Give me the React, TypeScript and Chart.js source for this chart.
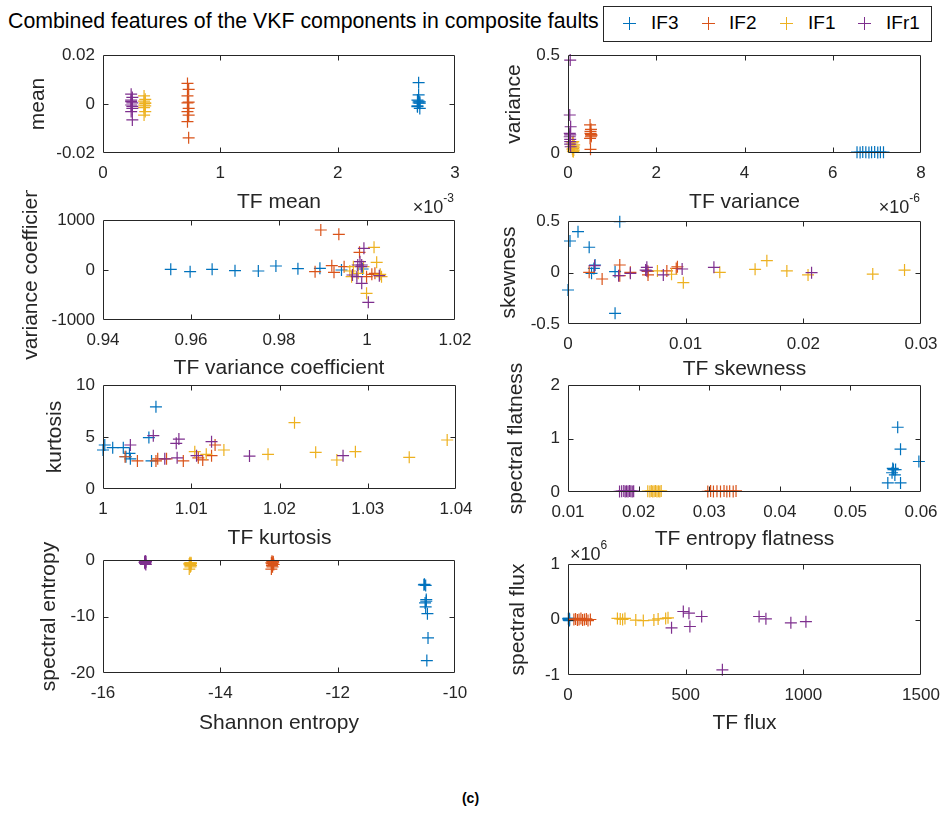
import React, { useEffect, useRef } from 'react';
import { Chart, registerables } from 'chart.js';

Chart.register(...registerables);

// ---------- colours / fonts ----------
const SERIES_NAMES = ['IF3', 'IF2', 'IF1', 'IFr1'];
const SERIES_COLORS = ['#0072BD', '#D95319', '#EDB120', '#7E2F8E'];
const AXIS_COLOR = '#262626';
const FONT = "'Liberation Sans', Arial, Helvetica, sans-serif";

// ---------- data: TF mean vs mean ----------
const tfMeanIF3 = [2.69e-3, 2.69e-3, 2.68e-3, 2.70e-3, 2.69e-3, 2.68e-3, 2.70e-3, 2.69e-3, 2.68e-3, 2.70e-3];
const meanIF3 = [0.0087, 0.0037, 0.0016, 0.0009, 0.0012, -0.0011, -0.0018, 0.0005, -0.0008, 0.0003];
const tfMeanIF2 = [0.72e-3, 0.73e-3, 0.72e-3, 0.73e-3, 0.72e-3, 0.73e-3, 0.72e-3, 0.73e-3, 0.72e-3, 0.73e-3];
const meanIF2 = [0.0084, 0.006, 0.0033, 0.0008, 0.0005, -0.0018, -0.0031, -0.0045, -0.0072, -0.0138];
const tfMeanIF1 = [0.35e-3, 0.36e-3, 0.35e-3, 0.36e-3, 0.35e-3, 0.36e-3, 0.35e-3, 0.36e-3, 0.35e-3, 0.36e-3];
const meanIF1 = [0.0033, 0.0019, 0.0012, 0.0005, -0.0004, -0.0008, -0.0015, -0.0031, -0.0045, 0.0002];
const tfMeanIFr1 = [0.24e-3, 0.25e-3, 0.24e-3, 0.25e-3, 0.24e-3, 0.25e-3, 0.24e-3, 0.25e-3, 0.24e-3, 0.25e-3];
const meanIFr1 = [0.004, 0.0027, 0.0016, 0.0005, -0.0004, -0.0018, -0.0031, -0.0065, 0.001, -0.001];

// ---------- data: TF variance vs variance ----------
const tfVarIF3 = [6.55e-6, 6.62e-6, 6.68e-6, 6.75e-6, 6.82e-6, 6.88e-6, 6.95e-6, 7.02e-6, 7.08e-6, 7.15e-6];
const varIF3 = [0.004, 0.003, 0.005, 0.004, 0.003, 0.004, 0.005, 0.003, 0.004, 0.004];
const tfVarIF2 = [0.5e-6, 0.52e-6, 0.51e-6, 0.53e-6, 0.52e-6, 0.5e-6, 0.51e-6, 0.52e-6, 0.53e-6, 0.51e-6];
const varIF2 = [0.143, 0.121, 0.1, 0.092, 0.083, 0.075, 0.11, 0.095, 0.088, 0.019];
const tfVarIF1 = [0.12e-6, 0.1e-6, 0.14e-6, 0.11e-6, 0.13e-6, 0.12e-6, 0.1e-6, 0.13e-6, 0.11e-6, 0.12e-6];
const varIF1 = [0.058, 0.052, 0.041, 0.035, 0.03, 0.024, 0.02, 0.015, 0.01, 0.007];
const tfVarIFr1 = [0.05e-6, 0.04e-6, 0.06e-6, 0.05e-6, 0.04e-6, 0.05e-6, 0.06e-6, 0.04e-6, 0.05e-6, 0.05e-6];
const varIFr1 = [0.474, 0.194, 0.134, 0.092, 0.083, 0.058, 0.032, 0.1, 0.07, 0.045];

// ---------- data: TF variance coefficient vs variance coefficient ----------
const tfVcIF3 = [0.9554, 0.9598, 0.9648, 0.97, 0.9753, 0.9793, 0.9843, 0.9893, 0.9942, 0.999];
const vcIF3 = [13, -33, 13, -13, -20, 80, 27, 33, 0, 20];
const tfVcIF2 = [0.9895, 0.9936, 0.9983, 0.992, 0.9882, 0.9925, 0.9948, 1.0011, 0.9999, 1.0018];
const vcIF2 = [800, 713, 353, 87, -33, -47, 67, -87, -133, -67];
const tfVcIF1 = [1.0016, 1.0022, 0.9999, 0.9969, 0.9965, 0.998, 1.0033, 1.003, 0.9961, 0.9992];
const vcIF1 = [453, 153, -467, 67, -133, -67, -133, -87, -20, 67];
const tfVcIFr1 = [0.9993, 0.9984, 0.9988, 0.9979, 0.9967, 0.9988, 1.0003, 1.0028, 0.9987, 0.9977];
const vcIFr1 = [433, 167, 100, 100, -100, -267, -647, -113, 67, -133];

// ---------- data: TF skewness vs skewness ----------
const tfSkIF3 = [0.0044, 0.00085, 0.00017, 0.0018, 0.0, 0.004, 0.0022, 0.002, 0.0023, 0.004];
const skIF3 = [0.493, 0.396, 0.306, 0.245, -0.17, -0.396, 0.04, -0.008, 0.073, 0.008];
const tfSkIF2 = [0.0018, 0.0029, 0.0044, 0.0044, 0.0053, 0.0068, 0.0084, 0.0093, 0.0092, 0.0068];
const skIF2 = [0.002, -0.063, 0.073, -0.031, 0.002, -0.024, 0.015, 0.056, 0.04, 0.01];
const tfSkIF1 = [0.0076, 0.0088, 0.0098, 0.0129, 0.0159, 0.0169, 0.0186, 0.0204, 0.0259, 0.0286];
const skIF1 = [0.015, -0.017, -0.099, 0.002, 0.031, 0.115, 0.015, -0.024, -0.015, 0.024];
const tfSkIFr1 = [0.00226, 0.0043, 0.0053, 0.0066, 0.0067, 0.0081, 0.0097, 0.0124, 0.0207, 0.0067];
const skIFr1 = [0.066, -0.031, -0.008, 0.024, 0.016, -0.024, 0.034, 0.05, -0.002, 0.05];

// ---------- data: TF kurtosis vs kurtosis ----------
const tfKuIF3 = [1.0002, 1.0011, 1.0023, 1.003, 1.0026, 1.006, 1.0052, 1.0055, 1.0031, 1.0];
const kuIF3 = [4.23, 3.97, 3.97, 3.43, 3.1, 7.9, 4.94, 2.7, 2.9, 3.75];
const tfKuIF2 = [1.0025, 1.0039, 1.006, 1.0072, 1.0091, 1.0108, 1.0113, 1.0123, 1.0127, 1.0062];
const kuIF2 = [3.1, 2.7, 2.7, 2.9, 2.7, 3.0, 2.8, 3.2, 4.23, 2.9];
const tfKuIF1 = [1.0104, 1.0117, 1.0137, 1.0187, 1.0217, 1.0241, 1.0265, 1.0286, 1.0347, 1.039];
const kuIF1 = [3.59, 3.33, 3.75, 3.33, 6.38, 3.53, 2.79, 3.59, 3.05, 4.71];
const tfKuIFr1 = [1.0031, 1.0057, 1.0086, 1.0083, 1.0123, 1.007, 1.0084, 1.0106, 1.0166, 1.0272];
const kuIFr1 = [4.23, 5.13, 4.8, 4.39, 4.55, 2.9, 3.0, 3.2, 3.17, 3.2];

// ---------- data: TF entropy flatness vs spectral flatness ----------
const tfFlIF3 = [0.0567, 0.0571, 0.0597, 0.0561, 0.0564, 0.0559, 0.0553, 0.0571, 0.0563, 0.056];
const flIF3 = [1.21, 0.8, 0.57, 0.42, 0.42, 0.36, 0.17, 0.17, 0.32, 0.44];
const tfFlIF2 = [0.0298, 0.0302, 0.0306, 0.0311, 0.0316, 0.0321, 0.0325, 0.0329, 0.0334, 0.0338];
const flIF2 = [0.01, 0.02, 0.01, 0.015, 0.01, 0.02, 0.01, 0.015, 0.01, 0.02];
const tfFlIF1 = [0.0213, 0.0216, 0.0218, 0.022, 0.0222, 0.0224, 0.0226, 0.0228, 0.023, 0.0232];
const flIF1 = [0.015, 0.01, 0.02, 0.01, 0.015, 0.02, 0.01, 0.015, 0.01, 0.02];
const tfFlIFr1 = [0.0173, 0.0176, 0.0179, 0.0181, 0.0183, 0.0185, 0.0187, 0.0189, 0.0191, 0.0193];
const flIFr1 = [0.01, 0.015, 0.02, 0.01, 0.015, 0.01, 0.02, 0.015, 0.01, 0.015];

// ---------- data: Shannon entropy vs spectral entropy ----------
const shIF3 = [-10.52, -10.5, -10.49, -10.51, -10.5, -10.47, -10.46, -10.48, -10.53, -10.49];
const seIF3 = [-4.3, -4.5, -7.0, -7.6, -8.3, -9.5, -13.8, -17.8, -4.4, -7.3];
const shIF2 = [-13.12, -13.1, -13.13, -13.11, -13.12, -13.09, -13.12, -13.11, -13.13, -13.1];
const seIF2 = [-0.2, -0.4, -0.5, -0.6, -0.7, -0.8, -1.0, -1.2, -1.6, -0.3];
const shIF1 = [-14.52, -14.5, -14.53, -14.51, -14.52, -14.5, -14.51, -14.53, -14.52, -14.5];
const seIF1 = [-0.5, -0.6, -0.7, -0.8, -0.9, -1.0, -1.2, -1.6, -0.7, -0.5];
const shIFr1 = [-15.28, -15.27, -15.29, -15.28, -15.27, -15.28, -15.29, -15.28, -15.27, -15.28];
const seIFr1 = [-0.2, -0.3, -0.4, -0.5, -0.3, -0.6, -0.4, -0.2, -0.8, -0.5];

// ---------- data: TF flux vs spectral flux ----------
const tfFxIF3 = [2, 3, 4, 5, 6, 3, 4, 5, 2, 7];
const fxIF3 = [0.01e6, -0.01e6, 0.02e6, 0, -0.02e6, 0.01e6, 0, -0.01e6, 0.02e6, 0];
const tfFxIF2 = [25, 32, 40, 47, 55, 62, 70, 78, 85, 95];
const fxIF2 = [0, 0.01e6, -0.01e6, 0, 0.02e6, -0.01e6, 0, 0.01e6, -0.02e6, 0];
const tfFxIF1 = [210, 222, 232, 242, 288, 320, 365, 383, 415, 425];
const fxIF1 = [0.02e6, 0.01e6, 0, 0.02e6, -0.01e6, -0.02e6, -0.01e6, 0.01e6, 0.02e6, 0.03e6];
const tfFxIFr1 = [490, 514, 568, 440, 518, 656, 812, 841, 947, 1011];
const fxIFr1 = [0.144e6, 0.114e6, 0.054e6, -0.15e6, -0.126e6, -0.906e6, 0.054e6, 0.012e6, -0.06e6, -0.04e6];

// ---------- panel definitions ----------
type Exp = { text: string; side: 'x' | 'y' };
interface PanelCfg {
  xTitle: string;
  yTitle: string;
  plot: [number, number, number, number]; // left, top, right, bottom (page px)
  yTitleX: number;
  xTitleY: number;
  x: [number, number, number, number]; // min, max, step, divisor
  y: [number, number, number, number];
  exp?: Exp;
  series: [number[], number[]][];
}

const PANELS: PanelCfg[] = [
  {
    xTitle: 'TF mean', yTitle: 'mean', plot: [103, 55, 455, 153], yTitleX: 39, xTitleY: 202,
    x: [0, 0.003, 0.001, 1e-3], y: [-0.02, 0.02, 0.02, 1], exp: { text: '-3', side: 'x' },
    series: [[tfMeanIF3, meanIF3], [tfMeanIF2, meanIF2], [tfMeanIF1, meanIF1], [tfMeanIFr1, meanIFr1]],
  },
  {
    xTitle: 'TF variance', yTitle: 'variance', plot: [568, 55, 921, 153], yTitleX: 515, xTitleY: 202,
    x: [0, 8e-6, 2e-6, 1e-6], y: [0, 0.5, 0.5, 1], exp: { text: '-6', side: 'x' },
    series: [[tfVarIF3, varIF3], [tfVarIF2, varIF2], [tfVarIF1, varIF1], [tfVarIFr1, varIFr1]],
  },
  {
    xTitle: 'TF variance coefficient', yTitle: 'variance coefficient', plot: [103, 220, 455, 320], yTitleX: 32, xTitleY: 368,
    x: [0.94, 1.02, 0.02, 1], y: [-1000, 1000, 1000, 1],
    series: [[tfVcIF3, vcIF3], [tfVcIF2, vcIF2], [tfVcIF1, vcIF1], [tfVcIFr1, vcIFr1]],
  },
  {
    xTitle: 'TF skewness', yTitle: 'skewness', plot: [568, 221, 921, 324], yTitleX: 510, xTitleY: 369,
    x: [0, 0.03, 0.01, 1], y: [-0.5, 0.5, 0.5, 1],
    series: [[tfSkIF3, skIF3], [tfSkIF2, skIF2], [tfSkIF1, skIF1], [tfSkIFr1, skIFr1]],
  },
  {
    xTitle: 'TF kurtosis', yTitle: 'kurtosis', plot: [103, 385, 456, 489], yTitleX: 56, xTitleY: 538,
    x: [1, 1.04, 0.01, 1], y: [0, 10, 5, 1],
    series: [[tfKuIF3, kuIF3], [tfKuIF2, kuIF2], [tfKuIF1, kuIF1], [tfKuIFr1, kuIFr1]],
  },
  {
    xTitle: 'TF entropy flatness', yTitle: 'spectral flatness', plot: [568, 385, 921, 492], yTitleX: 517, xTitleY: 539,
    x: [0.01, 0.06, 0.01, 1], y: [0, 2, 1, 1],
    series: [[tfFlIF3, flIF3], [tfFlIF2, flIF2], [tfFlIF1, flIF1], [tfFlIFr1, flIFr1]],
  },
  {
    xTitle: 'Shannon entropy', yTitle: 'spectral entropy', plot: [103, 560, 455, 673], yTitleX: 50, xTitleY: 723,
    x: [-16, -10, 2, 1], y: [-20, 0, 10, 1],
    series: [[shIF3, seIF3], [shIF2, seIF2], [shIF1, seIF1], [shIFr1, seIFr1]],
  },
  {
    xTitle: 'TF flux', yTitle: 'spectral flux', plot: [568, 564, 921, 675], yTitleX: 519, xTitleY: 723,
    x: [0, 1500, 500, 1], y: [-1e6, 1e6, 1e6, 1e6], exp: { text: '6', side: 'y' },
    series: [[tfFxIF3, fxIF3], [tfFxIF2, fxIF2], [tfFxIF1, fxIF1], [tfFxIFr1, fxIFr1]],
  },
];

const TITLE_SIZE = 21;
const TICK_SIZE = 17;
const TITLE_OFF = (TITLE_SIZE * 1.2) / 2;

function fmt(v: number): string {
  const r = Math.round(v * 1e6) / 1e6;
  return String(r === 0 ? 0 : r);
}

// draws the MATLAB-like box, inward ticks, and the exponent labels
const framePlugin = {
  id: 'mframe',
  afterDraw(chart: any, _args: any, opts: any) {
    const { ctx, chartArea: a, scales } = chart;
    const L = Math.round(a.left) + 0.5;
    const R = Math.round(a.right) - 0.5;
    const T = Math.round(a.top) + 0.5;
    const B = Math.round(a.bottom) - 0.5;
    ctx.save();
    ctx.strokeStyle = AXIS_COLOR;
    ctx.lineWidth = 1;
    ctx.beginPath();
    ctx.rect(L, T, R - L, B - T);
    const TL = 5;
    for (const t of scales.x.ticks) {
      const px = Math.round(scales.x.getPixelForValue(t.value)) + 0.5;
      if (Math.abs(px - L) < 2 || Math.abs(px - R) < 2) continue;
      ctx.moveTo(px, B); ctx.lineTo(px, B - TL);
      ctx.moveTo(px, T); ctx.lineTo(px, T + TL);
    }
    for (const t of scales.y.ticks) {
      const py = Math.round(scales.y.getPixelForValue(t.value)) + 0.5;
      if (Math.abs(py - T) < 2 || Math.abs(py - B) < 2) continue;
      ctx.moveTo(L, py); ctx.lineTo(L + TL, py);
      ctx.moveTo(R, py); ctx.lineTo(R - TL, py);
    }
    ctx.stroke();

    const exp: Exp | undefined = opts && opts.exp;
    if (exp) {
      ctx.fillStyle = AXIS_COLOR;
      ctx.textBaseline = 'alphabetic';
      ctx.textAlign = 'left';
      const mainFont = `18px ${FONT}`;
      const supFont = `12px ${FONT}`;
      ctx.font = mainFont;
      const w1 = ctx.measureText('\u00d710').width;
      ctx.font = supFont;
      const w2 = ctx.measureText(exp.text).width;
      let x0: number, base: number;
      if (exp.side === 'x') {
        x0 = a.right - w1 - w2 - 1;
        base = a.bottom + 60;
      } else {
        x0 = a.left + 2;
        base = a.top - 4;
      }
      ctx.font = mainFont;
      ctx.fillText('\u00d710', x0, base);
      ctx.font = supFont;
      ctx.fillText(exp.text, x0 + w1, base - 11);
    }
    ctx.restore();
  },
};

function Panel({ cfg }: { cfg: PanelCfg }) {
  const ref = useRef<HTMLCanvasElement>(null);
  const [pl, pt, pr, pb] = cfg.plot;
  const cl = Math.round(cfg.yTitleX - TITLE_OFF);
  const ct = pt - 30;
  const cr = pr + 30;
  const cb = Math.round(cfg.xTitleY + TITLE_OFF);
  const w = cr - cl;
  const h = cb - ct;

  useEffect(() => {
    if (!ref.current) return;
    const [xMin, xMax, xStep, xDiv] = cfg.x;
    const [yMin, yMax, yStep, yDiv] = cfg.y;
    const datasets = cfg.series.map(([xs, ys], i) => ({
      label: SERIES_NAMES[i],
      data: xs.map((x, j) => ({ x, y: ys[j] })),
      borderColor: SERIES_COLORS[i],
      backgroundColor: SERIES_COLORS[i],
      pointStyle: 'cross',
      pointRadius: 6,
      pointBorderWidth: 1.2,
      showLine: false,
      clip: false,
      order: 3 - i,
    }));
    const tickFont = { family: FONT, size: TICK_SIZE };
    const titleFont = { family: FONT, size: TITLE_SIZE };
    const chart = new Chart(ref.current, {
      type: 'scatter',
      data: { datasets } as any,
      options: {
        animation: false,
        responsive: false,
        maintainAspectRatio: false,
        events: [],
        layout: { padding: { left: 0, top: pt - ct, right: cr - pr, bottom: 0 } },
        plugins: {
          legend: { display: false },
          tooltip: { enabled: false },
          mframe: { exp: cfg.exp },
        } as any,
        scales: {
          x: {
            type: 'linear',
            position: 'bottom',
            min: xMin,
            max: xMax,
            grid: { display: false, drawTicks: false },
            border: { display: false },
            ticks: {
              stepSize: xStep,
              padding: 10,
              color: AXIS_COLOR,
              font: tickFont,
              autoSkip: false,
              maxRotation: 0,
              callback: (v: any) => fmt(Number(v) / xDiv),
            },
            title: { display: true, text: cfg.xTitle, color: AXIS_COLOR, font: titleFont, padding: 0 },
            afterFit: (s: any) => { s.height = cb - pb; },
          },
          y: {
            type: 'linear',
            position: 'left',
            min: yMin,
            max: yMax,
            grid: { display: false, drawTicks: false },
            border: { display: false },
            ticks: {
              stepSize: yStep,
              padding: 8,
              color: AXIS_COLOR,
              font: tickFont,
              autoSkip: false,
              callback: (v: any) => fmt(Number(v) / yDiv),
            },
            title: { display: true, text: cfg.yTitle, color: AXIS_COLOR, font: titleFont, padding: 0 },
            afterFit: (s: any) => { s.width = pl - cl; },
          },
        },
      } as any,
      plugins: [framePlugin],
    });
    return () => chart.destroy();
  }, []);

  return (
    <canvas
      ref={ref}
      width={w}
      height={h}
      style={{ position: 'absolute', left: cl, top: ct, width: w, height: h }}
    />
  );
}

function LegendMarker({ color, left }: { color: string; left: number }) {
  return (
    <div style={{ position: 'absolute', left: left - 6, top: 17, width: 13, height: 13 }}>
      <div style={{ position: 'absolute', left: 0, top: 6, width: 13, height: 1, background: color }} />
      <div style={{ position: 'absolute', left: 6, top: 0, width: 1, height: 13, background: color }} />
    </div>
  );
}

const LEGEND_MARKER_X = [629, 708, 786, 864];
const LEGEND_TEXT_X = [651, 729, 808, 886];

export default function App() {
  return (
    <div style={{ position: 'absolute', left: 0, top: 0, width: 941, height: 813, background: '#fff', overflow: 'hidden' }}>
      <div
        style={{
          position: 'absolute', left: 8, top: 11, fontFamily: FONT, fontSize: 21.3, lineHeight: '21px',
          color: '#000', whiteSpace: 'nowrap',
        }}
      >
        Combined features of the VKF components in composite faults
      </div>
      <div
        style={{
          position: 'absolute', left: 603, top: 6, width: 329, height: 36, boxSizing: 'border-box',
          border: `1px solid ${AXIS_COLOR}`, background: '#fff',
        }}
      />
      {SERIES_NAMES.map((n, i) => (
        <React.Fragment key={n}>
          <LegendMarker color={SERIES_COLORS[i]} left={LEGEND_MARKER_X[i]} />
          <div
            style={{
              position: 'absolute', left: LEGEND_TEXT_X[i], top: 13, fontFamily: FONT, fontSize: 19,
              lineHeight: '19px', color: '#000', whiteSpace: 'nowrap',
            }}
          >
            {n}
          </div>
        </React.Fragment>
      ))}
      {PANELS.map((p, i) => (
        <Panel key={i} cfg={p} />
      ))}
      <div
        style={{
          position: 'absolute', left: 0, top: 790, width: 941, textAlign: 'center', fontFamily: FONT,
          fontSize: 14, fontWeight: 'bold', lineHeight: '16px', color: '#000',
        }}
      >
        (c)
      </div>
    </div>
  );
}
